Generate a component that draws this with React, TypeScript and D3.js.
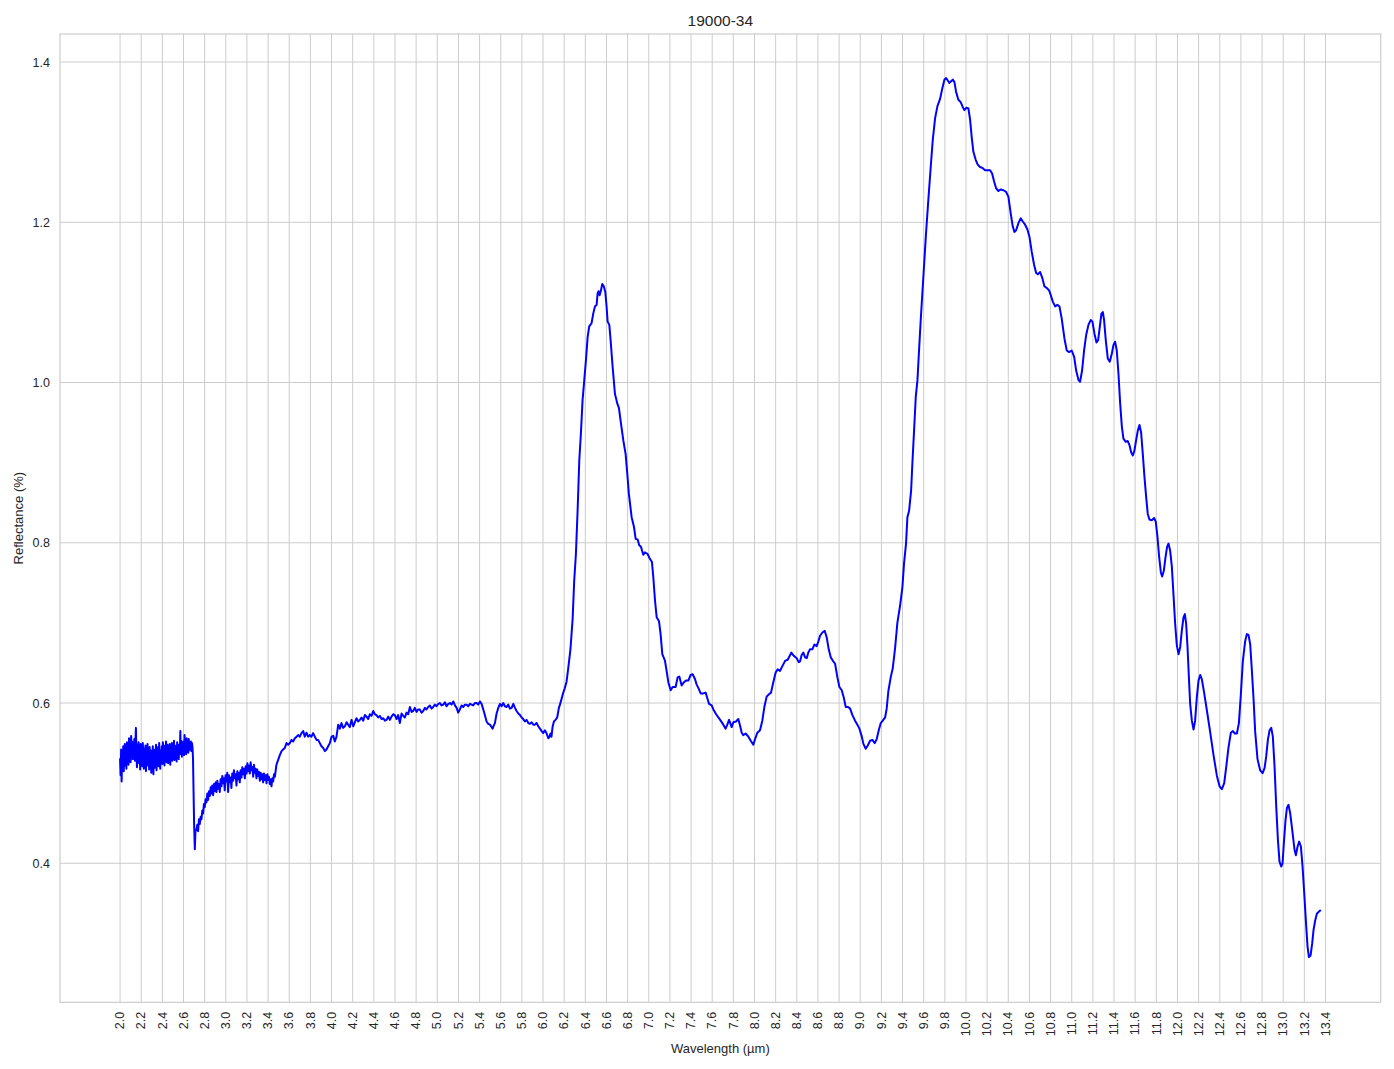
import React from 'react';
import * as d3 from 'd3';

type P = [number, number];

// 2.00–2.685 µm: very noisy plateau
const noisyPlateau: P[] = [
  [2.000,0.530],[2.005,0.510],[2.010,0.542],[2.015,0.502],[2.020,0.538],[2.025,0.520],[2.030,0.546],[2.035,0.515],
  [2.040,0.532],[2.045,0.549],[2.050,0.522],[2.055,0.540],[2.060,0.518],[2.065,0.551],[2.070,0.528],[2.075,0.545],
  [2.080,0.523],[2.085,0.556],[2.090,0.534],[2.095,0.548],[2.100,0.526],[2.105,0.559],[2.110,0.537],[2.115,0.552],
  [2.120,0.530],[2.125,0.547],[2.130,0.539],[2.135,0.555],[2.140,0.528],[2.145,0.550],[2.150,0.569],[2.155,0.535],
  [2.160,0.520],[2.165,0.548],[2.170,0.531],[2.175,0.551],[2.180,0.525],[2.185,0.544],[2.190,0.517],[2.195,0.549],
  [2.200,0.532],[2.205,0.546],[2.210,0.521],[2.215,0.550],[2.220,0.536],[2.225,0.518],[2.230,0.543],[2.235,0.528],
  [2.240,0.547],[2.245,0.515],[2.250,0.540],[2.255,0.531],[2.260,0.549],[2.265,0.522],[2.270,0.538],[2.275,0.517],
  [2.280,0.545],[2.285,0.526],[2.290,0.541],[2.295,0.513],[2.300,0.536],[2.305,0.520],[2.310,0.546],[2.315,0.511],
  [2.320,0.533],[2.325,0.519],[2.330,0.542],[2.335,0.524],[2.340,0.548],[2.345,0.516],[2.350,0.537],[2.355,0.529],
  [2.360,0.545],[2.365,0.521],[2.370,0.550],[2.375,0.533],[2.380,0.518],[2.385,0.541],[2.390,0.527],[2.395,0.546],
  [2.400,0.524],[2.405,0.551],[2.410,0.535],[2.415,0.544],[2.420,0.522],[2.425,0.547],[2.430,0.531],[2.435,0.552],
  [2.440,0.526],[2.445,0.540],[2.450,0.548],[2.455,0.525],[2.460,0.543],[2.465,0.530],[2.470,0.549],[2.475,0.523],
  [2.480,0.541],[2.485,0.533],[2.490,0.550],[2.495,0.528],[2.500,0.544],[2.505,0.536],[2.510,0.553],[2.515,0.529],
  [2.520,0.547],[2.525,0.532],[2.530,0.545],[2.535,0.527],[2.540,0.551],[2.545,0.534],[2.550,0.548],[2.555,0.530],
  [2.560,0.546],[2.565,0.538],[2.570,0.565],[2.575,0.536],[2.580,0.553],[2.585,0.533],[2.590,0.549],[2.595,0.537],
  [2.600,0.552],[2.605,0.535],[2.610,0.560],[2.615,0.540],[2.620,0.554],[2.625,0.536],[2.630,0.556],[2.635,0.542],
  [2.640,0.551],[2.645,0.538],[2.650,0.555],[2.655,0.541],[2.660,0.549],[2.665,0.543],[2.670,0.552],[2.675,0.540],
  [2.680,0.550],[2.685,0.545],
];

// sharp drop near 2.7 µm
const dropSegment: P[] = [
  [2.690,0.530],[2.695,0.490],[2.700,0.450],[2.707,0.4175],[2.713,0.440],
];

// 2.72–4.00 µm: noisy recovery
const recovery: P[] = [
  [2.722,0.442],[2.730,0.448],[2.738,0.440],[2.746,0.455],[2.754,0.449],[2.762,0.458],[2.770,0.455],[2.778,0.466],
  [2.785,0.462],[2.793,0.474],[2.801,0.470],[2.809,0.480],[2.817,0.476],[2.825,0.487],[2.833,0.479],[2.841,0.490],
  [2.849,0.484],[2.857,0.495],[2.864,0.487],[2.872,0.497],[2.880,0.485],[2.888,0.499],[2.896,0.490],[2.904,0.501],
  [2.912,0.489],[2.920,0.503],[2.927,0.493],[2.935,0.499],[2.943,0.489],[2.951,0.505],[2.959,0.496],[2.967,0.509],
  [2.975,0.500],[2.983,0.506],[2.990,0.491],[2.998,0.510],[3.006,0.502],[3.014,0.513],[3.022,0.489],[3.030,0.510],
  [3.038,0.501],[3.046,0.507],[3.053,0.494],[3.061,0.512],[3.069,0.503],[3.077,0.516],[3.085,0.506],[3.093,0.511],
  [3.101,0.497],[3.109,0.515],[3.117,0.505],[3.125,0.513],[3.132,0.501],[3.140,0.516],[3.148,0.507],[3.156,0.520],
  [3.164,0.511],[3.172,0.518],[3.180,0.506],[3.188,0.521],[3.196,0.512],[3.204,0.525],[3.211,0.515],[3.219,0.522],
  [3.227,0.512],[3.235,0.526],[3.243,0.516],[3.251,0.520],[3.259,0.508],[3.266,0.523],[3.274,0.513],[3.282,0.518],
  [3.290,0.506],[3.298,0.517],[3.306,0.509],[3.314,0.514],[3.322,0.503],[3.330,0.513],[3.337,0.505],[3.345,0.511],
  [3.353,0.501],[3.361,0.512],[3.369,0.504],[3.377,0.510],[3.385,0.500],[3.393,0.511],[3.400,0.504],[3.408,0.508],
  [3.416,0.499],[3.424,0.505],[3.432,0.496],[3.440,0.506],[3.448,0.502],[3.456,0.511],[3.464,0.508],
  [3.479,0.523],[3.495,0.529],[3.511,0.535],[3.527,0.540],[3.542,0.542],[3.558,0.544],[3.574,0.550],[3.590,0.548],
  [3.606,0.550],[3.621,0.554],[3.637,0.552],[3.653,0.556],[3.669,0.558],[3.684,0.560],[3.700,0.558],[3.716,0.5625],
  [3.732,0.565],[3.747,0.558],[3.763,0.563],[3.779,0.558],[3.795,0.560],[3.810,0.558],[3.826,0.5625],[3.842,0.558],
  [3.858,0.554],[3.873,0.554],[3.889,0.550],[3.905,0.546],[3.921,0.544],[3.937,0.540],[3.952,0.542],[3.968,0.546],
  [3.984,0.550],[4.000,0.558],
];

// 4.0–6.22 µm: slowly rising noisy shelf
const shelf: P[] = [
  [4.016,0.559],[4.031,0.552],[4.047,0.558],[4.063,0.573],[4.079,0.568],[4.094,0.575],[4.110,0.569],[4.126,0.571],
  [4.142,0.576],[4.157,0.573],[4.173,0.570],[4.189,0.579],[4.205,0.571],[4.220,0.576],[4.236,0.581],[4.252,0.577],
  [4.268,0.579],[4.284,0.582],[4.300,0.578],[4.315,0.585],[4.331,0.583],[4.347,0.580],[4.362,0.586],[4.378,0.584],
  [4.394,0.590],[4.410,0.586],[4.425,0.585],[4.441,0.582],[4.457,0.584],[4.473,0.580],[4.489,0.581],[4.505,0.578],
  [4.520,0.579],[4.536,0.583],[4.552,0.579],[4.567,0.583],[4.583,0.586],[4.599,0.585],[4.615,0.580],[4.630,0.585],
  [4.646,0.575],[4.662,0.587],[4.678,0.584],[4.693,0.582],[4.709,0.588],[4.725,0.586],[4.741,0.595],[4.757,0.589],
  [4.772,0.590],[4.788,0.594],[4.804,0.589],[4.820,0.592],[4.835,0.592],[4.851,0.588],[4.867,0.590],[4.883,0.594],
  [4.898,0.592],[4.914,0.595],[4.930,0.597],[4.946,0.593],[4.961,0.595],[4.977,0.598],[4.993,0.596],[5.009,0.599],
  [5.025,0.600],[5.040,0.597],[5.056,0.598],[5.072,0.601],[5.088,0.596],[5.104,0.599],[5.120,0.600],[5.135,0.598],
  [5.151,0.602],[5.167,0.597],[5.183,0.594],[5.198,0.588],[5.214,0.592],[5.230,0.597],[5.246,0.595],[5.261,0.598],
  [5.277,0.598],[5.293,0.596],[5.309,0.599],[5.325,0.598],[5.340,0.597],[5.356,0.600],[5.372,0.600],[5.387,0.598],
  [5.403,0.602],[5.419,0.599],[5.435,0.592],[5.450,0.585],[5.466,0.577],[5.482,0.574],[5.498,0.573],[5.514,0.570],
  [5.523,0.568],[5.535,0.572],[5.545,0.575],[5.561,0.587],[5.577,0.594],[5.593,0.599],[5.608,0.596],[5.624,0.600],
  [5.640,0.596],[5.656,0.595],[5.671,0.598],[5.687,0.593],[5.703,0.594],[5.719,0.599],[5.735,0.594],[5.750,0.590],
  [5.766,0.587],[5.782,0.585],[5.798,0.582],[5.813,0.580],[5.829,0.577],[5.845,0.579],[5.861,0.575],[5.876,0.574],
  [5.892,0.576],[5.908,0.573],[5.924,0.573],[5.939,0.575],[5.955,0.571],[5.971,0.568],[5.987,0.565],[6.002,0.5625],
  [6.018,0.566],[6.034,0.562],[6.050,0.556],[6.059,0.5575],[6.070,0.562],[6.080,0.558],[6.090,0.570],[6.103,0.577],
  [6.118,0.579],[6.134,0.582],[6.150,0.594],[6.160,0.598],[6.175,0.605],[6.190,0.6125],[6.205,0.618],[6.223,0.627],
];

// 6.24–9.35 µm: first band and middle region
const middleBands: P[] = [
  [6.240,0.645],[6.260,0.668],[6.280,0.705],[6.295,0.753],[6.311,0.786],[6.327,0.840],[6.343,0.903],[6.358,0.936],
  [6.374,0.978],[6.390,1.003],[6.406,1.028],[6.422,1.057],[6.437,1.070],[6.459,1.074],[6.475,1.086],[6.491,1.095],
  [6.507,1.097],[6.516,1.111],[6.525,1.114],[6.535,1.109],[6.548,1.115],[6.560,1.123],[6.575,1.120],[6.589,1.113],
  [6.601,1.095],[6.611,1.076],[6.627,1.072],[6.639,1.053],[6.658,1.020],[6.680,0.986],[6.702,0.974],[6.718,0.968],
  [6.737,0.949],[6.759,0.928],[6.781,0.911],[6.797,0.886],[6.812,0.861],[6.838,0.832],[6.860,0.820],[6.876,0.805],
  [6.895,0.804],[6.910,0.797],[6.926,0.795],[6.948,0.785],[6.964,0.788],[6.989,0.786],[7.011,0.780],[7.030,0.776],
  [7.043,0.757],[7.059,0.728],[7.075,0.707],[7.097,0.702],[7.112,0.686],[7.128,0.661],[7.153,0.653],[7.169,0.640],
  [7.185,0.626],[7.207,0.616],[7.226,0.620],[7.254,0.620],[7.273,0.632],[7.289,0.633],[7.311,0.622],[7.333,0.626],
  [7.352,0.628],[7.374,0.628],[7.396,0.635],[7.415,0.636],[7.437,0.630],[7.453,0.623],[7.472,0.618],[7.491,0.612],
  [7.516,0.612],[7.538,0.613],[7.554,0.606],[7.570,0.599],[7.595,0.597],[7.611,0.592],[7.633,0.587],[7.658,0.582],
  [7.680,0.578],[7.705,0.573],[7.727,0.568],[7.743,0.573],[7.759,0.579],[7.771,0.575],[7.784,0.570],[7.800,0.576],
  [7.825,0.577],[7.847,0.580],[7.863,0.572],[7.879,0.563],[7.894,0.560],[7.916,0.562],[7.942,0.558],[7.964,0.553],
  [7.989,0.548],[8.005,0.555],[8.027,0.563],[8.052,0.566],[8.074,0.578],[8.093,0.595],[8.115,0.608],[8.137,0.611],
  [8.156,0.613],[8.178,0.626],[8.200,0.638],[8.219,0.642],[8.241,0.640],[8.267,0.647],[8.292,0.653],[8.314,0.654],
  [8.330,0.658],[8.349,0.663],[8.364,0.660],[8.380,0.658],[8.399,0.656],[8.418,0.651],[8.431,0.652],[8.446,0.660],
  [8.462,0.663],[8.478,0.657],[8.494,0.656],[8.509,0.663],[8.525,0.667],[8.547,0.667],[8.566,0.673],[8.588,0.671],
  [8.604,0.677],[8.620,0.684],[8.642,0.688],[8.664,0.690],[8.683,0.682],[8.702,0.667],[8.721,0.657],[8.740,0.653],
  [8.762,0.649],[8.784,0.632],[8.803,0.620],[8.825,0.616],[8.844,0.607],[8.863,0.595],[8.885,0.595],[8.904,0.593],
  [8.926,0.585],[8.951,0.578],[8.973,0.573],[8.992,0.568],[9.011,0.560],[9.030,0.549],[9.052,0.543],[9.071,0.547],
  [9.093,0.553],[9.115,0.554],[9.137,0.550],[9.156,0.555],[9.175,0.566],[9.194,0.575],[9.213,0.578],[9.235,0.582],
  [9.250,0.593],[9.266,0.615],[9.288,0.632],[9.307,0.643],[9.329,0.668],[9.351,0.700],
];

// 9.38–13.35 µm: main band and tail
const mainBand: P[] = [
  [9.377,0.722],[9.399,0.745],[9.414,0.774],[9.433,0.799],[9.446,0.832],[9.462,0.840],[9.481,0.865],[9.493,0.899],
  [9.509,0.940],[9.525,0.982],[9.541,1.003],[9.556,1.040],[9.572,1.078],[9.597,1.132],[9.622,1.186],[9.644,1.228],
  [9.667,1.270],[9.686,1.303],[9.708,1.330],[9.730,1.345],[9.755,1.354],[9.777,1.3675],[9.796,1.378],[9.812,1.380],
  [9.828,1.377],[9.843,1.374],[9.859,1.376],[9.875,1.378],[9.891,1.375],[9.906,1.363],[9.928,1.353],[9.950,1.350],
  [9.969,1.344],[9.985,1.340],[10.004,1.343],[10.023,1.342],[10.039,1.328],[10.055,1.305],[10.070,1.288],[10.092,1.278],
  [10.111,1.272],[10.133,1.269],[10.159,1.2675],[10.181,1.265],[10.203,1.265],[10.228,1.265],[10.247,1.261],[10.266,1.251],
  [10.285,1.2425],[10.307,1.239],[10.329,1.241],[10.354,1.240],[10.379,1.238],[10.401,1.232],[10.423,1.211],[10.442,1.195],
  [10.458,1.188],[10.474,1.190],[10.496,1.199],[10.518,1.205],[10.537,1.201],[10.559,1.197],[10.581,1.191],[10.600,1.182],
  [10.622,1.163],[10.644,1.147],[10.663,1.137],[10.679,1.135],[10.701,1.138],[10.723,1.130],[10.742,1.120],[10.764,1.118],
  [10.786,1.115],[10.802,1.109],[10.821,1.101],[10.843,1.095],[10.865,1.097],[10.884,1.095],[10.905,1.080],[10.931,1.055],
  [10.953,1.040],[10.975,1.038],[11.000,1.040],[11.023,1.032],[11.042,1.015],[11.064,1.003],[11.079,1.001],[11.098,1.015],
  [11.117,1.040],[11.136,1.059],[11.158,1.072],[11.180,1.078],[11.196,1.076],[11.215,1.061],[11.234,1.050],[11.250,1.053],
  [11.266,1.070],[11.281,1.086],[11.294,1.088],[11.306,1.078],[11.322,1.053],[11.341,1.030],[11.360,1.026],[11.379,1.036],
  [11.395,1.047],[11.410,1.051],[11.426,1.040],[11.442,1.011],[11.458,0.974],[11.474,0.945],[11.489,0.930],[11.511,0.926],
  [11.530,0.927],[11.546,0.922],[11.562,0.913],[11.578,0.909],[11.593,0.915],[11.609,0.928],[11.625,0.940],[11.641,0.947],
  [11.656,0.938],[11.672,0.911],[11.688,0.882],[11.704,0.857],[11.719,0.836],[11.735,0.829],[11.757,0.828],[11.779,0.831],
  [11.795,0.826],[11.811,0.807],[11.827,0.782],[11.843,0.763],[11.855,0.758],[11.871,0.765],[11.887,0.782],[11.902,0.795],
  [11.915,0.799],[11.931,0.790],[11.947,0.770],[11.962,0.736],[11.978,0.699],[11.994,0.672],[12.010,0.661],[12.026,0.670],
  [12.041,0.690],[12.057,0.707],[12.070,0.711],[12.082,0.699],[12.095,0.670],[12.108,0.632],[12.120,0.599],[12.136,0.578],
  [12.152,0.567],[12.167,0.578],[12.183,0.607],[12.199,0.628],[12.215,0.635],[12.230,0.630],[12.252,0.613],[12.278,0.591],
  [12.309,0.564],[12.341,0.535],[12.373,0.509],[12.398,0.496],[12.420,0.4925],[12.442,0.500],[12.461,0.520],[12.483,0.545],
  [12.505,0.563],[12.524,0.565],[12.543,0.562],[12.562,0.562],[12.581,0.575],[12.600,0.612],[12.618,0.652],[12.640,0.677],
  [12.656,0.686],[12.672,0.685],[12.688,0.673],[12.704,0.640],[12.720,0.604],[12.735,0.564],[12.757,0.530],[12.782,0.516],
  [12.805,0.5125],[12.824,0.519],[12.839,0.533],[12.855,0.554],[12.871,0.566],[12.887,0.569],[12.902,0.558],[12.918,0.521],
  [12.934,0.471],[12.950,0.429],[12.965,0.402],[12.981,0.396],[12.994,0.400],[13.006,0.425],[13.022,0.454],[13.035,0.469],
  [13.050,0.473],[13.066,0.4625],[13.085,0.442],[13.107,0.417],[13.120,0.410],[13.136,0.421],[13.151,0.427],[13.167,0.421],
  [13.183,0.396],[13.199,0.3625],[13.214,0.329],[13.230,0.296],[13.243,0.283],[13.259,0.285],[13.274,0.300],[13.287,0.317],
  [13.303,0.329],[13.318,0.337],[13.340,0.340],[13.350,0.341],
];

const xTickLabels = [
  '2.0','2.2','2.4','2.6','2.8','3.0','3.2','3.4','3.6','3.8','4.0','4.2','4.4','4.6','4.8','5.0','5.2','5.4','5.6','5.8',
  '6.0','6.2','6.4','6.6','6.8','7.0','7.2','7.4','7.6','7.8','8.0','8.2','8.4','8.6','8.8','9.0','9.2','9.4','9.6','9.8',
  '10.0','10.2','10.4','10.6','10.8','11.0','11.2','11.4','11.6','11.8','12.0','12.2','12.4','12.6','12.8','13.0','13.2','13.4',
];
const yTickLabels = ['0.4', '0.6', '0.8', '1.0', '1.2', '1.4'];

const title = '19000-34';
const xLabel = 'Wavelength (µm)';
const yLabel = 'Reflectance (%)';

export default function App() {
  const W = 1394;
  const H = 1069;
  const left = 60, right = 1380.7, top = 34, bottom = 1002.3;
  const x = d3.scaleLinear().domain([1.432, 13.922]).range([left, right]);
  const y = d3.scaleLinear().domain([0.2265, 1.435]).range([bottom, top]);
  const series: P[] = [...noisyPlateau, ...dropSegment, ...recovery, ...shelf, ...middleBands, ...mainBand];
  const line = d3.line<P>().x((d) => x(d[0])).y((d) => y(d[1]));
  const font = '"Liberation Sans", Arial, Helvetica, sans-serif';
  const grid = '#cccccc';
  const text = '#262626';

  return (
    <svg width={W} height={H} style={{ position: 'absolute', left: 0, top: 0, background: '#fff' }} fontFamily={font}>
      <rect x={0} y={0} width={W} height={H} fill="#ffffff" />
      {xTickLabels.map((t) => (
        <line key={'gx' + t} x1={x(+t)} x2={x(+t)} y1={top} y2={bottom} stroke={grid} strokeWidth={1} />
      ))}
      {yTickLabels.map((t) => (
        <line key={'gy' + t} x1={left} x2={right} y1={y(+t)} y2={y(+t)} stroke={grid} strokeWidth={1} />
      ))}
      <rect x={left} y={top} width={right - left} height={bottom - top} fill="none" stroke={grid} strokeWidth={1.2} />
      <path d={line(series) || ''} fill="none" stroke="#0000ff" strokeWidth={2} strokeLinejoin="round" strokeLinecap="round" />
      {xTickLabels.map((t) => (
        <text
          key={'tx' + t}
          transform={`translate(${x(+t) + 4.2},${bottom + 9.5}) rotate(-90)`}
          textAnchor="end"
          fontSize={12.5}
          fill={text}
        >
          {t}
        </text>
      ))}
      {yTickLabels.map((t) => (
        <text key={'ty' + t} x={left - 10} y={y(+t) + 4.5} textAnchor="end" fontSize={12.5} fill={text}>
          {t}
        </text>
      ))}
      <text x={(left + right) / 2} y={26} textAnchor="middle" fontSize={15.5} fill={text}>
        {title}
      </text>
      <text x={(left + right) / 2} y={1053} textAnchor="middle" fontSize={13} fill={text}>
        {xLabel}
      </text>
      <text transform={`translate(23,${(top + bottom) / 2}) rotate(-90)`} textAnchor="middle" fontSize={13} fill={text}>
        {yLabel}
      </text>
    </svg>
  );
}
